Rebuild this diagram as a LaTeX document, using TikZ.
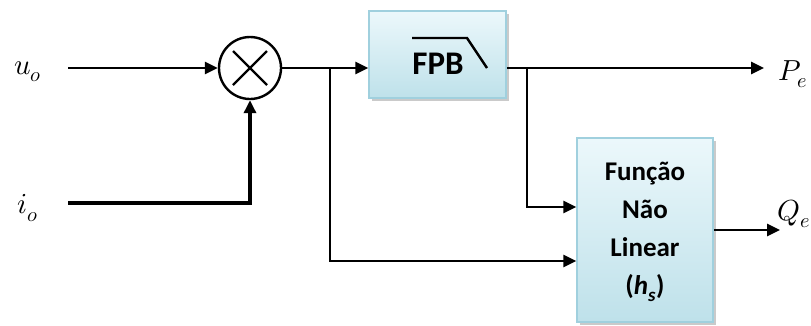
\documentclass[tikz,border=0pt]{standalone}
\usepackage{fontspec}
\usepackage{unicode-math}
\newfontfamily\boxfont{Carlito}
\usetikzlibrary{arrows.meta,shadows,calc}
\definecolor{boxtop}{RGB}{236,248,251}
\definecolor{boxbot}{RGB}{190,225,234}
\definecolor{boxline}{RGB}{160,208,222}
\begin{document}
\begin{tikzpicture}[x=1pt,y=-1pt,
  wire/.style={line width=2.8pt},
  arr/.style={wire,-{Triangle[length=13pt,width=12pt]}},
  blk/.style={draw=boxline,line width=1.5pt,top color=boxtop,bottom color=boxbot,
    drop shadow={shadow xshift=3pt,shadow yshift=-3pt,fill=black!35,opacity=0.6},inner sep=0pt},
  lbl/.style={font=\fontsize{29}{31}\selectfont,inner sep=0pt}
]
\useasboundingbox (0,0) rectangle (811,325);

% labels
\node[lbl] (uo) at (28,72) {$u_o$};
\node[lbl] (io) at (28,208) {$i_o$};
\node[lbl] (pe) at (793,74) {$P_e$};
\node[lbl] (qe) at (794,214) {$Q_e$};

% multiplier
\node[draw,circle,line width=2.4pt,minimum size=62pt,inner sep=0pt] (mult) at (250,68) {};
\draw[line width=2.4pt] ($(mult.center)+(-17,-17)$) -- ($(mult.center)+(17,17)$)
  ($(mult.center)+(-17,17)$) -- ($(mult.center)+(17,-17)$);

% FPB block
\node[blk,minimum width=137pt,minimum height=87pt] (fpb) at (437.5,54.5) {};
\node[font=\boxfont\bfseries\fontsize{33}{36}\selectfont,inner sep=0pt] (fpbt) at (438,64) {FPB};
\draw[line width=2.4pt] (412,38) -- (467,38) -- (487,68);

% nonlinear function block
\node[blk,minimum width=136pt,minimum height=184pt,align=center,
  font=\boxfont\bfseries\fontsize{27}{37}\selectfont] (fun) at (645,230)
  {\raisebox{-16pt}{\begin{tabular}{@{}c@{}}Função\\[1pt]Não\\[1pt]Linear\\[1pt](\textit{h}\textsubscript{\textit{s}})\end{tabular}}};

% coordinates
\coordinate (uos) at (68,68);
\coordinate (ios) at (68,203);
\coordinate (b1) at (330,68);
\coordinate (b2) at (527,68);
\coordinate (peend) at (764,68);
\coordinate (qeend) at (780,230);
\coordinate (fin1) at (fun.west |- 0,207);
\coordinate (fin2) at (fun.west |- 0,261);

% connectors
\draw[arr] (uos) -- (mult.west);
\draw[arr,line width=3.8pt] (ios) -| (mult.south);
\draw[wire] (mult.east) -- (b1);
\draw[arr] (b1) -- (fpb.west |- b1);
\draw[arr] (b1) |- (fin2);
\draw[arr] (fpb.east |- b2) -- (peend);
\draw[arr] (b2) |- (fin1);
\draw[arr] (fun.east |- qeend) -- (qeend);
\end{tikzpicture}
\end{document}
